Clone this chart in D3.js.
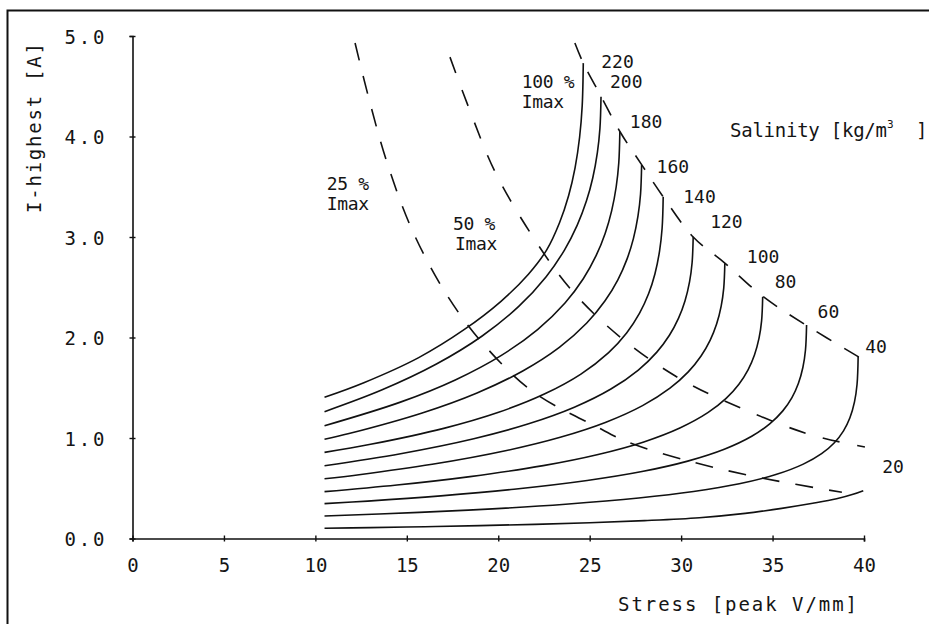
<!DOCTYPE html>
<html><head><meta charset="utf-8">
<script src="https://cdn.jsdelivr.net/npm/d3@7"></script>
<style>
html,body{margin:0;padding:0;background:#fff;}
svg{display:block;}
text{font-family:"DejaVu Sans Mono",monospace;fill:#151515;}
</style></head><body>
<svg id="chart" width="929" height="624"></svg>
<script>
// ---- data (Stress [peak V/mm], I-highest [A]) ----
const salinities = [20, 40, 60, 80, 100, 120, 140, 160, 180, 200, 220];
const curve20  = [[10.5,0.102],[13,0.108],[16,0.117],[19,0.128],[22,0.141],[25,0.157],[28,0.178],[31,0.207],[33.5,0.25],[35.5,0.30],[37.2,0.35],[38.5,0.395],[39.4,0.44],[39.96,0.476]];
const curve40  = [[10.5,0.224],[15.68,0.260],[19.68,0.295],[23.68,0.341],[27.68,0.403],[30.68,0.468],[33.18,0.545],[35.18,0.636],[36.68,0.740],[37.68,0.844],[38.38,0.953],[38.88,1.071],[39.23,1.201],[39.48,1.359],[39.62,1.535],[39.68,1.809]];
const curve60  = [[10.5,0.347],[12.86,0.372],[16.86,0.424],[20.86,0.490],[24.86,0.577],[27.86,0.666],[30.36,0.770],[32.36,0.888],[33.86,1.017],[34.86,1.143],[35.56,1.270],[36.06,1.402],[36.41,1.542],[36.66,1.704],[36.80,1.876],[36.86,2.124]];
const curve80  = [[10.5,0.466],[14.46,0.532],[18.46,0.616],[22.46,0.725],[25.46,0.836],[27.96,0.961],[29.96,1.102],[31.46,1.252],[32.46,1.394],[33.16,1.535],[33.66,1.678],[34.01,1.826],[34.26,1.994],[34.40,2.166],[34.46,2.406]];
const curve100 = [[10.5,0.595],[12.39,0.635],[16.39,0.738],[20.39,0.873],[23.39,1.007],[25.89,1.157],[27.89,1.322],[29.39,1.496],[30.39,1.658],[31.09,1.816],[31.59,1.974],[31.94,2.134],[32.19,2.313],[32.33,2.492],[32.39,2.738]];
const curve120 = [[10.5,0.724],[14.66,0.844],[18.66,0.993],[21.66,1.141],[24.16,1.306],[26.16,1.487],[27.66,1.676],[28.66,1.852],[29.36,2.022],[29.86,2.192],[30.21,2.363],[30.46,2.553],[30.60,2.744],[30.66,3.003]];
const curve140 = [[10.5,0.857],[13.02,0.937],[17.02,1.096],[20.02,1.256],[22.52,1.437],[24.52,1.636],[26.02,1.847],[27.02,2.045],[27.72,2.240],[28.22,2.435],[28.57,2.635],[28.82,2.859],[28.96,3.087],[29.02,3.40]];
const curve160 = [[10.5,0.987],[11.84,1.044],[15.84,1.249],[18.84,1.448],[21.34,1.667],[23.34,1.902],[24.84,2.144],[25.84,2.365],[26.54,2.574],[27.04,2.780],[27.39,2.984],[27.64,3.207],[27.78,3.425],[27.84,3.716]];
const curve180 = [[10.5,1.122],[14.65,1.357],[17.65,1.578],[20.15,1.820],[22.15,2.079],[23.65,2.344],[24.65,2.585],[25.35,2.814],[25.85,3.038],[26.20,3.260],[26.45,3.500],[26.59,3.736],[26.65,4.048]];
const curve200 = [[10.5,1.262],[13.62,1.477],[16.62,1.736],[19.12,2.015],[21.12,2.309],[22.62,2.605],[23.62,2.870],[24.32,3.118],[24.82,3.357],[25.17,3.590],[25.42,3.840],[25.56,4.081],[25.62,4.396]];
const curve220 = [[10.5,1.405],[12.65,1.55],[15.65,1.80],[18.15,2.08],[20.15,2.36],[21.65,2.63],[22.65,2.872],[23.35,3.142],[23.85,3.413],[24.20,3.688],[24.45,3.995],[24.59,4.305],[24.65,4.73]];
const imax25  = [[12.17,4.93],[12.88,4.41],[13.92,3.74],[15.34,3.05],[17.20,2.42],[19.16,1.94],[21.90,1.46],[25.40,1.11],[27.09,0.96],[30.65,0.76],[34.47,0.60],[38.79,0.46]];
const imax50  = [[17.36,4.79],[18.36,4.30],[19.82,3.65],[21.83,3.02],[24.01,2.47],[26.83,1.98],[30.03,1.58],[33.49,1.28],[37.13,1.03],[40.05,0.91]];
const imax100 = [[24.19,4.93],[24.65,4.73],[25.62,4.40],[26.65,4.05],[27.84,3.72],[29.02,3.40],[30.66,3.00],[32.39,2.74],[34.46,2.41],[36.86,2.12],[39.68,1.81],[40.05,1.77]];
const xTicks = [0, 5, 10, 15, 20, 25, 30, 35, 40];
const yTicks = [0, 1, 2, 3, 4, 5];
const curves = [curve20, curve40, curve60, curve80, curve100, curve120, curve140, curve160, curve180, curve200, curve220];

// ---- layout ----
const labelOffsets = [[19,-18],[7,-4],[11,-7],[12,-9],[22,0],[17,-9],[20,6],[15,8],[10,-4],[9,-9],[18,5]];
const svg = d3.select("#chart");
const x = d3.scaleLinear().domain([0, 40]).range([132.5, 864]);
const y = d3.scaleLinear().domain([0, 5]).range([538.5, 36]);

// frame
svg.append("path").attr("d", "M7.5,630 L7.5,10.5 L935,10.5")
  .attr("fill", "none").attr("stroke", "#111").attr("stroke-width", 2);

// axes
const ax = svg.append("g").attr("transform", `translate(0,${y(0)})`)
  .call(d3.axisBottom(x).tickValues(xTicks).tickFormat(d3.format("d")).tickSizeOuter(0).tickSize(3));
const ay = svg.append("g").attr("transform", `translate(${x(0)},0)`)
  .call(d3.axisLeft(y).tickValues(yTicks).tickFormat(d3.format(".1f")).tickSizeOuter(0).tickSize(3));
[ax, ay].forEach(g => {
  g.select(".domain").attr("stroke", "#111").attr("stroke-width", 1.6);
  g.selectAll(".tick line").attr("stroke", "#111").attr("stroke-width", 1.4);
});
ax.selectAll(".tick line").attr("y1", -3).attr("y2", 3);
ay.selectAll(".tick line").attr("x1", -3).attr("x2", 3);
ax.selectAll(".tick text").attr("y", 33).attr("dy", 0)
  .style("font-family", "DejaVu Sans Mono").style("font-size", "19px").attr("fill", "#151515");
ay.selectAll(".tick text").attr("x", -28).attr("dy", "0.38em")
  .attr("textLength", 40).attr("lengthAdjust", "spacing")
  .style("font-family", "DejaVu Sans Mono").style("font-size", "19px").attr("fill", "#151515");

// axis titles
svg.append("text").attr("transform", "translate(41,128) rotate(-90)")
  .attr("text-anchor", "middle").attr("textLength", 170).attr("lengthAdjust", "spacing")
  .style("font-size", "19px").text("I-highest [A]");
svg.append("text").attr("x", 618).attr("y", 611)
  .attr("textLength", 239).attr("lengthAdjust", "spacing")
  .style("font-size", "19px").text("Stress [peak V/mm]");

// salinity legend title
svg.append("text").attr("x", 730).attr("y", 137).attr("textLength", 157).attr("lengthAdjust", "spacing")
  .style("font-size", "19px").text("Salinity [kg/m");
svg.append("text").attr("x", 887).attr("y", 128).style("font-size", "11px").text("3");
svg.append("text").attr("x", 916).attr("y", 137).style("font-size", "19px").text("]");

// curves
const line = d3.line().x(d => x(d[0])).y(d => y(d[1])).curve(d3.curveCatmullRom.alpha(0.5));
svg.append("g").selectAll("path").data(curves).join("path")
  .attr("d", line).attr("fill", "none").attr("stroke", "#111").attr("stroke-width", 1.6);

// Imax dashed lines
const dline = d3.line().x(d => x(d[0])).y(d => y(d[1])).curve(d3.curveCatmullRom.alpha(0.5));
[[imax25, "18,16"], [imax50, "17,18"], [imax100, "17,15"]].forEach(([pts, dash]) => {
  svg.append("path").attr("d", dline(pts)).attr("fill", "none")
    .attr("stroke", "#111").attr("stroke-width", 1.6).attr("stroke-dasharray", dash);
});

// curve labels
svg.append("g").selectAll("text").data(curves).join("text")
  .attr("x", (c, i) => x(c[c.length - 1][0]) + labelOffsets[i][0])
  .attr("y", (c, i) => y(c[c.length - 1][1]) + labelOffsets[i][1])
  .style("font-size", "18px")
  .text((c, i) => salinities[i]);

// Imax labels
const imaxLabels = [["100 %", 521.7, 88], ["Imax", 521.7, 108], ["25 %", 326.7, 190], ["Imax", 326.7, 210], ["50 %", 453, 230], ["Imax", 455, 250]];
svg.append("g").selectAll("text").data(imaxLabels).join("text")
  .attr("x", d => d[1]).attr("y", d => d[2])
  .attr("textLength", d => d[0].length * 10.6).attr("lengthAdjust", "spacing")
  .style("font-size", "18px").text(d => d[0]);
</script>
</body></html>
